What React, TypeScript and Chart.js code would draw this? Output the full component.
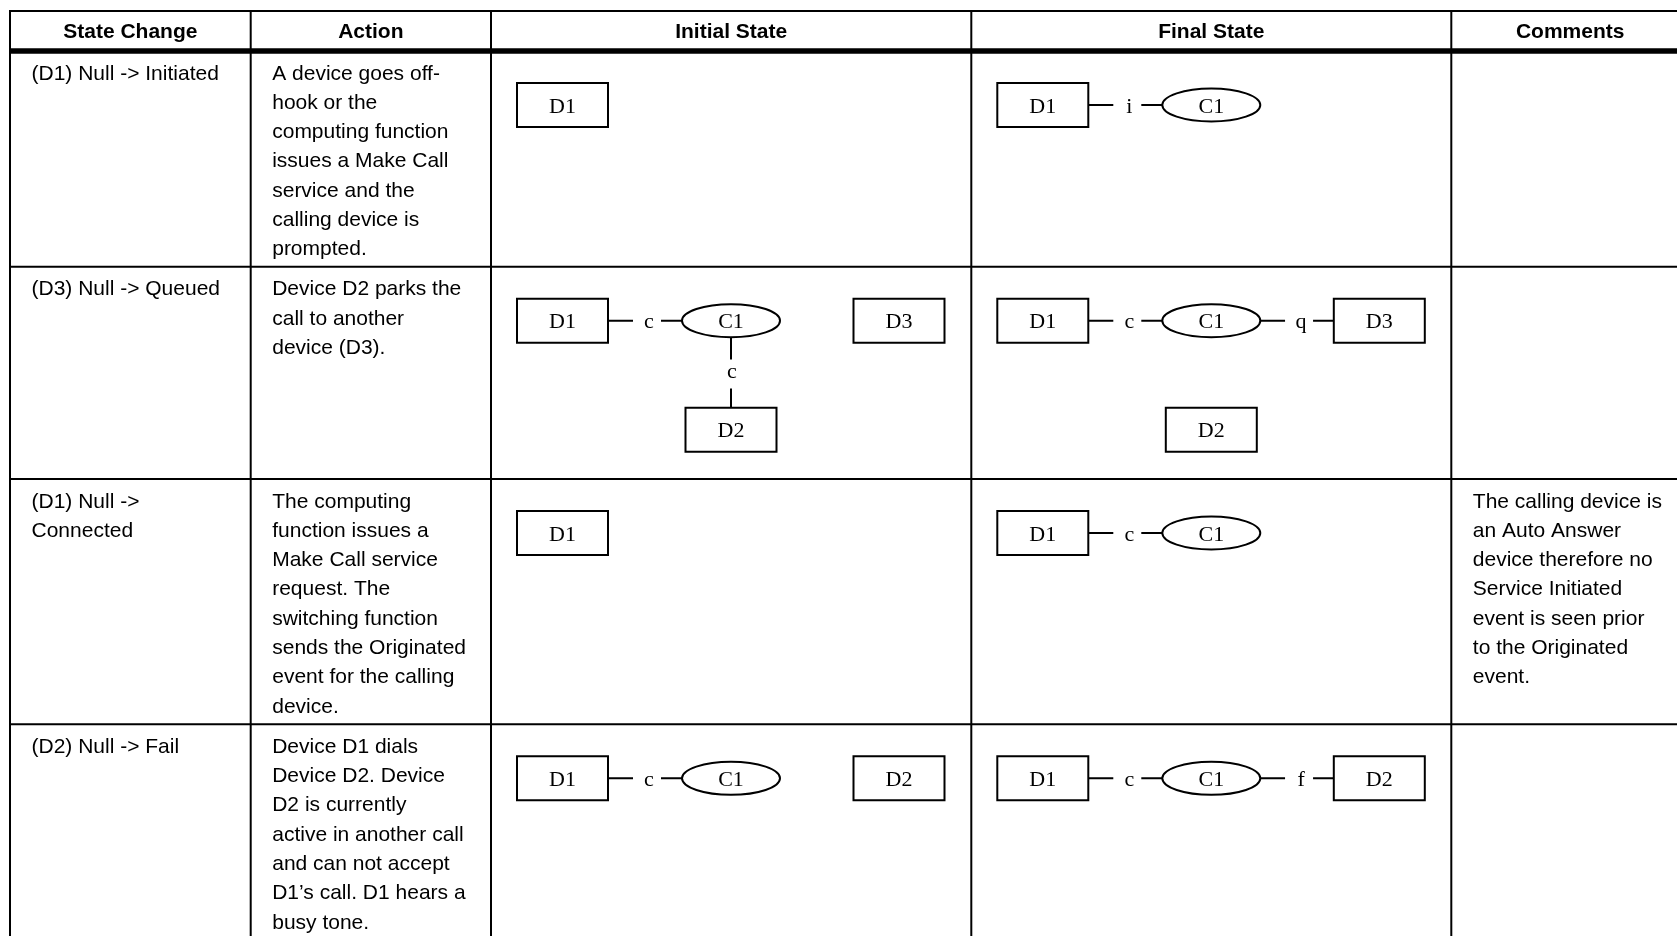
import React, { useEffect, useRef } from "react";
import { Chart, registerables } from "chart.js";

Chart.register(...registerables);

// ---------- DATA ----------
const headers: string[] = ["State Change", "Action", "Initial State", "Final State", "Comments"];

const stateChanges: string[][] = [
  ["(D1) Null -> Initiated"],
  ["(D3) Null -> Queued"],
  ["(D1) Null ->", "Connected"],
  ["(D2) Null -> Fail"],
];

const actions: string[][] = [
  ["A device goes off-", "hook or the", "computing function", "issues a Make Call", "service and the", "calling device is", "prompted."],
  ["Device D2 parks the", "call to another", "device (D3)."],
  ["The computing", "function issues a", "Make Call service", "request. The", "switching function", "sends the Originated", "event for the calling", "device."],
  ["Device D1 dials", "Device D2. Device", "D2 is currently", "active in another call", "and can not accept", "D1\u2019s call. D1 hears a", "busy tone."],
];

const comments: string[][] = [
  [],
  [],
  ["The calling device is", "an Auto Answer", "device therefore no", "Service Initiated", "event is seen prior", "to the Originated", "event."],
  [],
];

type DNode = { id: string; shape: "box" | "ellipse"; slot: [number, number] };
type DLink = { from: string; to: string; label: string };

const initialNodes: DNode[][] = [
  [{ id: "D1", shape: "box", slot: [0, 0] }],
  [
    { id: "D1", shape: "box", slot: [0, 0] },
    { id: "C1", shape: "ellipse", slot: [1, 0] },
    { id: "D3", shape: "box", slot: [2, 0] },
    { id: "D2", shape: "box", slot: [1, 1] },
  ],
  [{ id: "D1", shape: "box", slot: [0, 0] }],
  [
    { id: "D1", shape: "box", slot: [0, 0] },
    { id: "C1", shape: "ellipse", slot: [1, 0] },
    { id: "D2", shape: "box", slot: [2, 0] },
  ],
];

const initialLinks: DLink[][] = [
  [],
  [
    { from: "D1", to: "C1", label: "c" },
    { from: "C1", to: "D2", label: "c" },
  ],
  [],
  [{ from: "D1", to: "C1", label: "c" }],
];

const finalNodes: DNode[][] = [
  [
    { id: "D1", shape: "box", slot: [0, 0] },
    { id: "C1", shape: "ellipse", slot: [1, 0] },
  ],
  [
    { id: "D1", shape: "box", slot: [0, 0] },
    { id: "C1", shape: "ellipse", slot: [1, 0] },
    { id: "D3", shape: "box", slot: [2, 0] },
    { id: "D2", shape: "box", slot: [1, 1] },
  ],
  [
    { id: "D1", shape: "box", slot: [0, 0] },
    { id: "C1", shape: "ellipse", slot: [1, 0] },
  ],
  [
    { id: "D1", shape: "box", slot: [0, 0] },
    { id: "C1", shape: "ellipse", slot: [1, 0] },
    { id: "D2", shape: "box", slot: [2, 0] },
  ],
];

const finalLinks: DLink[][] = [
  [{ from: "D1", to: "C1", label: "i" }],
  [
    { from: "D1", to: "C1", label: "c" },
    { from: "C1", to: "D3", label: "q" },
  ],
  [{ from: "D1", to: "C1", label: "c" }],
  [
    { from: "D1", to: "C1", label: "c" },
    { from: "C1", to: "D2", label: "f" },
  ],
];

// ---------- LAYOUT (positions / sizes / styles) ----------
const W = 1677;
const H = 936;
const LAYOUT = {
  colEdges: [10, 250.7, 491, 971.3, 1451.3, 1689],
  tableTop: 11,
  headerLine: 51,
  rowEdges: [51, 266.7, 479, 724.3, 1000],
  headerBaseline: 37.5,
  textFirstBaseline: 28.5,
  lineHeight: 29.3,
  textInset: 21.5,
  slotX: [71.5, 240, 408],
  slotY: [54, 163],
  boxHalfW: 45.5,
  boxHalfH: 22,
  ellRx: 49,
  ellRy: 16.5,
};
const SANS = '"Liberation Sans", Arial, Helvetica, sans-serif';
const SERIF = '"Liberation Serif", "Times New Roman", Times, serif';

const tablePlugin = {
  id: "stateTable",
  beforeDraw(chart: any) {
    const { ctx } = chart;
    ctx.save();
    ctx.fillStyle = "#ffffff";
    ctx.fillRect(0, 0, chart.width, chart.height);
    ctx.restore();
  },
  afterDraw(chart: any) {
    const ctx: CanvasRenderingContext2D = chart.ctx;
    const xs = chart.scales.x;
    const ys = chart.scales.y;
    const X = (v: number) => xs.getPixelForValue(v);
    const Y = (v: number) => ys.getPixelForValue(v);
    const L = LAYOUT;
    ctx.save();
    ctx.strokeStyle = "#000";
    ctx.fillStyle = "#000";

    const hLine = (y: number, w: number) => {
      ctx.lineWidth = w;
      ctx.beginPath();
      ctx.moveTo(X(L.colEdges[0] - 1), Y(y));
      ctx.lineTo(X(L.colEdges[L.colEdges.length - 1]), Y(y));
      ctx.stroke();
    };
    // grid
    hLine(L.tableTop, 2);
    for (let r = 1; r < L.rowEdges.length - 1; r++) hLine(L.rowEdges[r], 2);
    for (let c = 0; c < L.colEdges.length; c++) {
      ctx.lineWidth = 2;
      ctx.beginPath();
      ctx.moveTo(X(L.colEdges[c]), Y(L.tableTop - 1));
      ctx.lineTo(X(L.colEdges[c]), Y(L.rowEdges[L.rowEdges.length - 1]));
      ctx.stroke();
    }
    hLine(L.headerLine, 5.5);

    // headers
    ctx.font = `bold 21px ${SANS}`;
    ctx.textAlign = "center";
    ctx.textBaseline = "alphabetic";
    headers.forEach((h, i) => {
      const cx = (L.colEdges[i] + L.colEdges[i + 1]) / 2;
      ctx.fillText(h, X(cx), Y(L.headerBaseline));
    });

    // body texts
    ctx.font = `21px ${SANS}`;
    ctx.textAlign = "left";
    const textCols: [string[][], number][] = [
      [stateChanges, 0],
      [actions, 1],
      [comments, 4],
    ];
    textCols.forEach(([rows, col]) => {
      rows.forEach((lines, r) => {
        lines.forEach((line, k) => {
          ctx.fillText(
            line,
            X(L.colEdges[col] + L.textInset),
            Y(L.rowEdges[r] + L.textFirstBaseline + k * L.lineHeight)
          );
        });
      });
    });

    // diagrams
    const drawDiagram = (nodes: DNode[], links: DLink[], col: number, r: number) => {
      const left = L.colEdges[col];
      const top = L.rowEdges[r];
      const pos = (n: DNode) => ({ cx: left + L.slotX[n.slot[0]], cy: top + L.slotY[n.slot[1]] });
      const halfW = (n: DNode) => (n.shape === "box" ? L.boxHalfW : L.ellRx);
      const halfH = (n: DNode) => (n.shape === "box" ? L.boxHalfH : L.ellRy);
      ctx.lineWidth = 2;
      ctx.font = `22px ${SERIF}`;
      ctx.textAlign = "center";
      ctx.textBaseline = "alphabetic";
      nodes.forEach((n) => {
        const { cx, cy } = pos(n);
        ctx.beginPath();
        if (n.shape === "box") {
          ctx.rect(X(cx - L.boxHalfW), Y(cy - L.boxHalfH), X(cx + L.boxHalfW) - X(cx - L.boxHalfW), Y(cy + L.boxHalfH) - Y(cy - L.boxHalfH));
        } else {
          ctx.ellipse(X(cx), Y(cy), X(cx + L.ellRx) - X(cx), Y(cy + L.ellRy) - Y(cy), 0, 0, Math.PI * 2);
        }
        ctx.stroke();
        ctx.fillText(n.id, X(cx), Y(cy + 7.5));
      });
      links.forEach((lk) => {
        const a = nodes.find((n) => n.id === lk.from)!;
        const b = nodes.find((n) => n.id === lk.to)!;
        const pa = pos(a);
        const pb = pos(b);
        ctx.beginPath();
        if (a.slot[1] === b.slot[1]) {
          const [p, q] = pa.cx < pb.cx ? [a, b] : [b, a];
          const s = pos(p).cx + halfW(p);
          const e = pos(q).cx - halfW(q);
          const mid = (s + e) / 2;
          const y = pa.cy;
          ctx.moveTo(X(s), Y(y));
          ctx.lineTo(X(mid - 12), Y(y));
          ctx.moveTo(X(mid + 16), Y(y));
          ctx.lineTo(X(e), Y(y));
          ctx.stroke();
          ctx.fillText(lk.label, X(mid + 4), Y(y + 7.5));
        } else {
          const [p, q] = pa.cy < pb.cy ? [a, b] : [b, a];
          const s = pos(p).cy + halfH(p);
          const e = pos(q).cy - halfH(q);
          const mid = (s + e) / 2;
          const x = pa.cx;
          ctx.moveTo(X(x), Y(s));
          ctx.lineTo(X(x), Y(mid - 13));
          ctx.moveTo(X(x), Y(mid + 16));
          ctx.lineTo(X(x), Y(e));
          ctx.stroke();
          ctx.fillText(lk.label, X(x + 1), Y(mid + 6));
        }
      });
    };
    for (let r = 0; r < initialNodes.length; r++) {
      drawDiagram(initialNodes[r], initialLinks[r], 2, r);
      drawDiagram(finalNodes[r], finalLinks[r], 3, r);
    }
    ctx.restore();
  },
};

export default function App() {
  const ref = useRef<HTMLCanvasElement | null>(null);
  useEffect(() => {
    if (!ref.current) return;
    const chart = new Chart(ref.current, {
      type: "scatter",
      data: { datasets: [{ data: [], pointRadius: 0 }] },
      options: {
        animation: false,
        responsive: false,
        maintainAspectRatio: false,
        devicePixelRatio: 1,
        layout: { padding: 0 },
        events: [],
        plugins: { legend: { display: false }, tooltip: { enabled: false }, title: { display: false } },
        scales: {
          x: { type: "linear", min: 0, max: W, display: false },
          y: { type: "linear", min: 0, max: H, reverse: true, display: false },
        },
      },
      plugins: [tablePlugin],
    } as any);
    return () => chart.destroy();
  }, []);
  return (
    <div style={{ position: "fixed", left: 0, top: 0, width: W, height: H, background: "#fff", overflow: "hidden" }}>
      <canvas ref={ref} width={W} height={H} style={{ display: "block", width: W, height: H }} />
    </div>
  );
}
